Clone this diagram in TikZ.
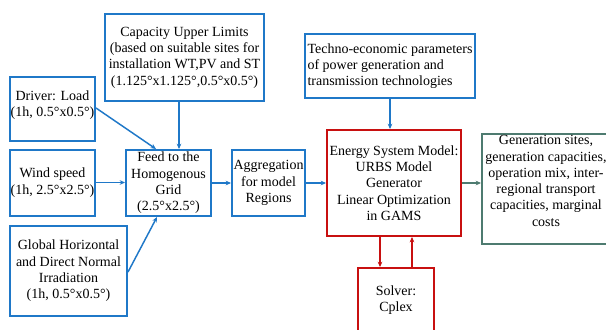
\documentclass[tikz,border=0pt]{standalone}
\usepackage{fontspec}
\setmainfont{Liberation Serif}
\usetikzlibrary{arrows.meta,calc}
\definecolor{bblue}{HTML}{1F78C8}
\definecolor{rred}{HTML}{C81010}
\definecolor{ggreen}{HTML}{4E7B70}
\tikzset{
  bx/.style={draw=#1, line width=1.5pt, inner sep=0pt, align=center,
    font=\fontsize{10.5pt}{12.2pt}\selectfont},
  arr/.style={draw=#1, line width=1.1pt, -{Stealth[length=4pt,width=3.5pt]}},
  txt/.style={inner sep=0pt, align=center, font=\fontsize{10.5pt}{12.2pt}\selectfont}
}
\begin{document}
\begin{tikzpicture}[x=0.75pt,y=-0.75pt]
\fill[white] (0,0) rectangle (606,329);
\useasboundingbox (0,0) rectangle (606,329);
\clip (0,0) rectangle (606,329);
% boxes
\node[bx=bblue, minimum width=119.25pt, minimum height=65.25pt] (cap) at (184.5,57.5)
  {Capacity Upper Limits\\(based on suitable sites for\\installation WT,PV and ST\\(1.125°x1.125°,0.5°x0.5°)};
\node[bx=bblue, minimum width=63.75pt, minimum height=48pt] (load) at (52.5,109) {};
\node[txt] (loadtext) at (52.5,105) {Driver: Load\\(1h, 0.5°x0.5°)};
\node[bx=bblue, minimum width=63.75pt, minimum height=49.5pt] (wind) at (52.5,182.5)
  {Wind speed\\(1h, 2.5°x2.5°)};
\node[bx=bblue, minimum width=87.75pt, minimum height=67.5pt] (ghi) at (68.5,271)
  {Global Horizontal\\and Direct Normal\\Irradiation\\(1h, 0.5°x0.5°)};
\node[bx=bblue, minimum width=63.75pt, minimum height=49.5pt] (feed) at (168.5,183)
  {Feed to the\\Homogenous\\Grid\\(2.5°x2.5°)};
\node[bx=bblue, minimum width=54.75pt, minimum height=49.5pt] (agg) at (268.5,183)
  {Aggregation\\for model\\Regions};
\node[bx=bblue, minimum width=127.5pt, minimum height=48pt, align=left] (tech) at (390,66)
  {Techno-economic parameters\\of power generation and\\transmission technologies};
\node[bx=rred, minimum width=100.5pt, minimum height=79.5pt] (esm) at (394,183)
  {Energy System Model:\\URBS Model\\Generator\\Linear Optimization\\in GAMS};
\node[bx=rred, minimum width=57pt, minimum height=48pt] (solver) at (396,300)
  {Solver:\\Cplex};
\node[bx=ggreen, minimum width=96pt, minimum height=82.5pt] (out) at (546,189) {};
\node[txt] (outtext) at (546,181)
  {Generation sites,\\generation capacities,\\operation mix, inter-\\regional transport\\capacities, marginal\\costs};
% connectors
\coordinate (loadtip) at ($(feed.north west)+(31,0)$);
\draw[arr=bblue] ($(load.east)+(0,-1)$) -- (loadtip);
\coordinate (capsrc) at ($(cap.south)+(-5.5,0)$);
\draw[arr=bblue] (capsrc) -- (capsrc |- feed.north);
\draw[arr=bblue] (wind.east) -- (wind.east -| feed.west);
\coordinate (ghitip) at ($(feed.south west)+(32,0)$);
\draw[arr=bblue] ($(ghi.east)+(0,1)$) -- (ghitip);
\draw[arr=bblue] (feed.east) -- (agg.west);
\draw[arr=bblue] (agg.east) -- (esm.west);
\draw[arr=bblue] (tech.south) -- (tech.south |- esm.north);
\draw[arr=ggreen] (esm.east) -- (esm.east -| out.west);
\coordinate (dn) at ($(esm.south)+(-14,0)$);
\draw[arr=rred] (dn) -- (dn |- solver.north);
\coordinate (up) at ($(solver.north)+(16,0)$);
\draw[arr=rred] (up) -- (up |- esm.south);
\end{tikzpicture}
\end{document}
